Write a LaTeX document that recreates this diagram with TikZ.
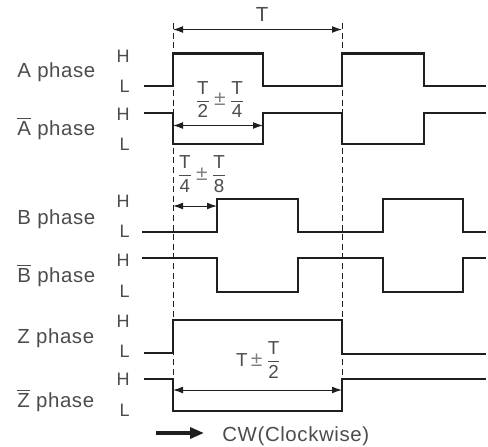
\documentclass[tikz,border=0pt]{standalone}
\usepackage{fontspec}
\setmainfont[LetterSpace=3]{Liberation Sans}
\usetikzlibrary{arrows.meta}
\definecolor{txtgray}{gray}{0.3}
\definecolor{sigblack}{gray}{0.12}
\newcommand{\pfrac}[2]{$\displaystyle\frac{\mbox{#1}}{\mbox{#2}}$}
\newcommand{\plusminus}{\,{\color{gray}\fontsize{10.5}{11}\selectfont ±}\,}
\begin{document}
\begin{tikzpicture}[x=0.5pt,y=-0.5pt,
    signal/.style={draw=sigblack,line width=1.1pt,line join=miter},
    guide/.style={draw=sigblack,line width=0.5pt,dash pattern=on 3pt off 1.8pt},
    dim/.style={draw=sigblack,line width=0.5pt,arrows={Latex[length=5pt,width=3.4pt]-Latex[length=5pt,width=3.4pt]}},
    phase/.style={text=txtgray,font=\fontsize{10.2}{12}\selectfont,anchor=base west,inner sep=0pt},
    level/.style={text=txtgray,font=\fontsize{9}{10}\selectfont,anchor=base east,inner sep=0pt},
    measure/.style={text=txtgray,font=\fontsize{9.4}{11}\selectfont,inner sep=0pt}]
    \useasboundingbox (0,0) rectangle (488,446);
    % guide lines
    \coordinate (g1top) at (173,23);
    \coordinate (g1bot) at (173,382);
    \coordinate (g2top) at (342,23);
    \coordinate (g2bot) at (342,382);
    \draw[guide] (g1top) -- (g1bot);
    \draw[guide] (g2top) -- (g2bot);
    % signals
    \draw[signal] (144,86) -- (173,86) -- (173,53.5) -- (263,53.5) -- (263,86) -- (342,86) -- (342,53.5) -- (424,53.5) -- (424,86) -- (486,86);
    \draw[signal] (144,113) -- (173,113) -- (173,144) -- (263,144) -- (263,113) -- (342,113) -- (342,144) -- (424,144) -- (424,113) -- (486,113);
    \draw[signal] (142,232) -- (217,232) -- (217,199) -- (298,199) -- (298,232) -- (383,232) -- (383,199) -- (463,199) -- (463,232) -- (486,232);
    \draw[signal] (142,258) -- (217,258) -- (217,292) -- (298,292) -- (298,258) -- (383,258) -- (383,292) -- (463,292) -- (463,258) -- (486,258);
    \draw[signal] (144,353) -- (173,353) -- (173,320) -- (342,320) -- (342,354) -- (486,354);
    \draw[signal] (144,379) -- (173,379) -- (173,411) -- (342,411) -- (342,379) -- (486,379);
    % dimensions
    \coordinate (tL) at (173,29.5);
    \coordinate (tR) at (342,29.5);
    \coordinate (hL) at (173,125.5);
    \coordinate (hR) at (263,125.5);
    \coordinate (qL) at (173,206);
    \coordinate (qR) at (217,206);
    \coordinate (zL) at (173,390);
    \coordinate (zR) at (342,390);
    \draw[dim] (tL) -- (tR);
    \draw[dim] (hL) -- (hR);
    \draw[dim] (qL) -- (qR);
    \draw[dim] (zL) -- (zR);
    \node[measure,font=\fontsize{10.2}{12}\selectfont,anchor=base] (perT) at (262,21) {T};
    \node[measure] (perA) at (220,99.5) {\pfrac{T}{2}\plusminus\pfrac{T}{4}};
    \node[measure] (perB) at (202,174) {\pfrac{T}{4}\plusminus\pfrac{T}{8}};
    \node[measure] (perZ) at (259,360) {T\plusminus\pfrac{T}{2}};
    % labels
    \node[phase] (nameA) at (17,77) {A phase};
    \node[phase] (nameAn) at (17,135) {$\overline{\mbox{A}}$ phase};
    \node[phase] (nameB) at (17,224) {B phase};
    \node[phase] (nameBn) at (17,282) {$\overline{\mbox{B}}$ phase};
    \node[phase] (nameZ) at (17,343) {Z phase};
    \node[phase] (nameZn) at (17,407) {$\overline{\mbox{Z}}$ phase};
    \node[level] (hiA) at (130,62.5) {H};
    \node[level] (loA) at (130,92) {L};
    \node[level] (hiAn) at (130,120.5) {H};
    \node[level] (loAn) at (130,150) {L};
    \node[level] (hiB) at (130,207) {H};
    \node[level] (loB) at (130,237) {L};
    \node[level] (hiBn) at (130,266) {H};
    \node[level] (loBn) at (130,297) {L};
    \node[level] (hiZ) at (130,327) {H};
    \node[level] (loZ) at (130,357) {L};
    \node[level] (hiZn) at (130,385) {H};
    \node[level] (loZn) at (130,416) {L};
    % direction
    \coordinate (cwS) at (156,433);
    \coordinate (cwE) at (204,433);
    \draw[draw=sigblack,line width=1.6pt,-{Triangle[length=7pt,width=5.5pt]}] (cwS) -- (cwE);
    \node[phase] (cw) at (222,441) {CW(Clockwise)};
\end{tikzpicture}
\end{document}
